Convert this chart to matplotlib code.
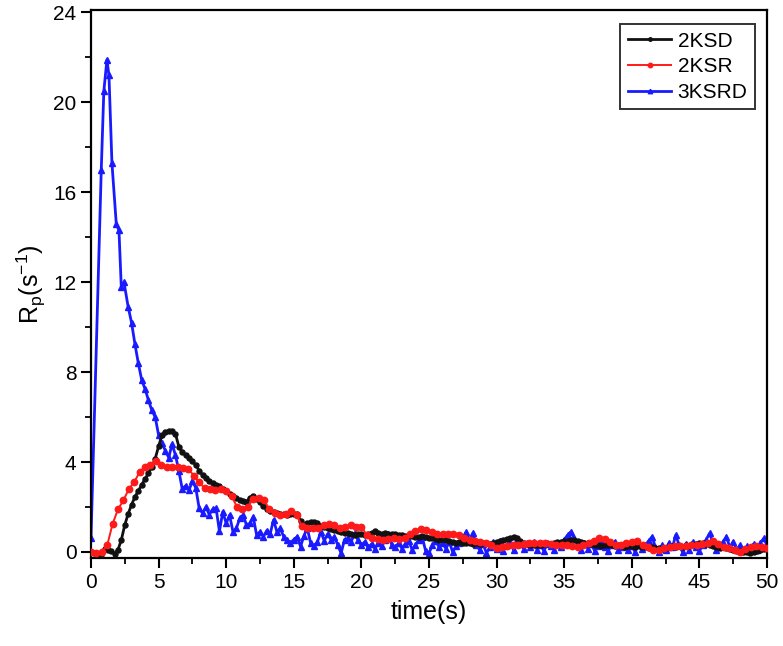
import numpy as np
import matplotlib
matplotlib.use("Agg")
import matplotlib.pyplot as plt
from matplotlib.ticker import MultipleLocator

plt.rcParams['font.family'] = ['Liberation Sans', 'DejaVu Sans']
plt.rcParams['mathtext.fontset'] = 'custom'
plt.rcParams['mathtext.rm'] = 'Liberation Sans'
plt.rcParams['mathtext.it'] = 'Liberation Sans:italic'

# 2KSD, sampled every 0.25 s from t = 0
ksd_step = 0.25
ksd = [
    0.0, -0.05, -0.1, -0.12, 0.15, 0.08, 0.02, -0.08, 0.1, 0.55, 1.2, 1.7, 2.1, 2.45, 2.72, 2.98, 3.25, 3.5, 3.78, 4.15,
    4.7, 5.2, 5.33, 5.36, 5.4, 5.25, 4.68, 4.45, 4.3, 4.18, 4.03, 3.86, 3.62, 3.42, 3.27, 3.15, 3.07, 2.98, 2.95, 2.8,
    2.72, 2.6, 2.48, 2.39, 2.33, 2.28, 2.23, 2.42, 2.5, 2.35, 2.2, 2.04, 1.9, 1.82, 1.78, 1.73, 1.71, 1.7, 1.65, 1.67,
    1.71, 1.7, 1.38, 1.2, 1.3, 1.34, 1.32, 1.28, 1.15, 1.12, 1.08, 1.04, 0.98, 0.93, 0.88, 0.86, 0.84, 0.82, 0.76, 0.78,
    0.8, 0.75, 0.8, 0.86, 0.92, 0.86, 0.82, 0.84, 0.8, 0.78, 0.8, 0.76, 0.74, 0.72, 0.7, 0.73, 0.68, 0.66, 0.7, 0.65,
    0.6, 0.62, 0.58, 0.55, 0.56, 0.52, 0.48, 0.45, 0.42, 0.44, 0.4, 0.38, 0.4, 0.37, 0.38, 0.36, 0.38, 0.4, 0.36, 0.42,
    0.46, 0.5, 0.55, 0.58, 0.62, 0.68, 0.6, 0.5, 0.42, 0.36, 0.32, 0.3, 0.33, 0.3, 0.35, 0.38, 0.36, 0.4, 0.44, 0.46,
    0.5, 0.48, 0.52, 0.54, 0.5, 0.46, 0.42, 0.38, 0.35, 0.3, 0.3, 0.28, 0.3, 0.32, 0.3, 0.28, 0.3, 0.26, 0.24, 0.28,
    0.26, 0.22, 0.26, 0.2, 0.22, 0.18, 0.2, 0.16, 0.18, 0.14, 0.18, 0.22, 0.26, 0.22, 0.28, 0.24, 0.3, 0.28, 0.32, 0.36,
    0.38, 0.4, 0.36, 0.3, 0.26, 0.22, 0.18, 0.2, 0.16, 0.14, 0.1, 0.06, 0.04, 0.0, -0.02, -0.03, 0.0, 0.04, 0.1, 0.14,
    0.16,
]

# 2KSR, sampled every 0.4 s from t = 0
ksr_step = 0.4
ksr = [
    0.0, -0.05, 0.0, 0.3, 1.25, 1.9, 2.3, 2.8, 3.12, 3.55, 3.78, 3.88, 4.05, 3.85, 3.76, 3.78, 3.78, 3.74, 3.7, 3.4,
    3.1, 2.84, 2.8, 2.76, 2.8, 2.72, 2.48, 2.0, 1.93, 2.02, 2.35, 2.42, 2.3, 1.9, 1.74, 1.66, 1.7, 1.8, 1.66, 1.15,
    1.06, 1.05, 1.05, 1.22, 1.24, 1.22, 1.06, 1.1, 1.2, 1.1, 1.12, 0.75, 0.6, 0.56, 0.55, 0.58, 0.6, 0.56, 0.6, 0.82,
    0.95, 1.0, 0.96, 0.9, 0.78, 0.82, 0.82, 0.78, 0.75, 0.6, 0.52, 0.5, 0.45, 0.42, 0.3, 0.18, 0.22, 0.28, 0.3, 0.32,
    0.36, 0.4, 0.38, 0.4, 0.4, 0.36, 0.33, 0.32, 0.3, 0.28, 0.22, 0.3, 0.4, 0.5, 0.6, 0.58, 0.45, 0.32, 0.3, 0.38,
    0.46, 0.48, 0.3, 0.2, 0.1, 0.1, 0.16, 0.22, 0.25, 0.26, 0.28, 0.3, 0.32, 0.34, 0.38, 0.48, 0.36, 0.22, 0.16, 0.1,
    0.0, 0.14, 0.2, 0.26, 0.24, 0.18,
]

# 3KSRD: irregular points over the peak, then every 0.25 s from t = 2.75
ksrd_head_t = [0.0, 0.76, 0.95, 1.18, 1.33, 1.55, 1.87, 2.07, 2.24, 2.44]
ksrd_head = [0.6, 17.0, 20.5, 21.9, 21.2, 17.3, 14.6, 14.3, 11.8, 12.0]
ksrd_tail_start = 2.75
ksrd_tail = [
    10.9, 10.2, 9.25, 8.4, 7.65, 7.25, 6.75, 6.3, 6.0,
    5.2, 4.85, 4.5, 4.2, 4.8, 4.3, 3.6, 2.8, 2.95, 2.75, 3.15, 2.85, 1.95, 1.72, 2.0, 1.66, 1.9, 1.95, 0.92, 1.79,
    1.27, 1.64, 0.9, 1.05, 1.49, 1.64, 1.2, 1.27, 1.56, 0.75, 0.9, 0.68, 0.95, 0.8, 1.42, 0.9, 1.05, 0.68, 0.53, 0.4,
    0.55, 0.68, 0.24, 0.72, 1.05, 0.38, 0.26, 0.45, 0.9, 0.5, 0.8, 0.55, 0.68, 0.31, -0.06, 0.55, 0.6, 0.46, 0.83, 0.53,
    0.3, 0.45, 0.2, 0.35, 0.15, 0.4, 0.25, 0.55, 0.82, 0.3, 0.2, 0.4, 0.15, 0.35, 0.5, 0.1, 0.3, 0.55, 0.65, 0.05,
    -0.05, 0.3, 0.5, 0.2, 0.4, 0.15, 0.45, 0.0, 0.25, 0.4, 0.6, 0.9, 0.5, 0.85, 0.3, 0.1, 0.35, -0.05, 0.2, 0.45,
    0.15, 0.5, 0.05, 0.3, 0.4, 0.1, 0.55, 0.35, 0.15, 0.4, 0.2, 0.45, 0.1, 0.3, 0.05, 0.35, 0.25, 0.1, 0.4, 0.2,
    0.55, 0.75, 0.9, 0.6, 0.3, 0.1, 0.4, 0.15, 0.35, 0.05, 0.25, 0.5, 0.2, 0.05, 0.3, 0.45, 0.1, 0.2, 0.4, 0.1,
    0.25, 0.0, 0.35, 0.15, 0.3, 0.5, 0.68, 0.2, 0.0, 0.3, 0.1, 0.4, 0.2, 0.75, 0.3, 0.0, 0.35, 0.1, 0.45, 0.2,
    0.05, 0.3, 0.55, 0.83, 0.4, 0.1, 0.3, 0.45, 0.68, 0.2, 0.46, 0.1, 0.3, 0.05, 0.25, 0.15, 0.35, 0.1, 0.4, 0.6,
    0.3,
]

x_ticks = [0, 5, 10, 15, 20, 25, 30, 35, 40, 45, 50]
y_ticks = [0, 4, 8, 12, 16, 20, 24]

t_ksd = np.arange(len(ksd)) * ksd_step
t_ksr = np.arange(len(ksr)) * ksr_step
t_ksrd = np.concatenate([ksrd_head_t, ksrd_tail_start + np.arange(len(ksrd_tail)) * 0.25])
v_ksrd = ksrd_head + ksrd_tail

fig = plt.figure(figsize=(7.83, 6.46), dpi=100)
ax = fig.add_axes([0.1162, 0.1362, 0.8634, 0.848])

ax.plot(t_ksd, ksd, color='#111111', lw=2.0, marker='o', ms=3.6, label='2KSD', zorder=3)
ax.plot(t_ksr, ksr, color='#ff1a1a', lw=1.4, marker='o', ms=4.6, label='2KSR', zorder=4)
ax.plot(t_ksrd, v_ksrd, color='#1a1aff', lw=2.0, marker='^', ms=4.6, label='3KSRD', zorder=2)

ax.set_xlim(0, 50)
ax.set_ylim(-0.27, 24.1)
ax.set_xticks(x_ticks)
ax.set_yticks(y_ticks)
ax.xaxis.set_minor_locator(MultipleLocator(2.5))
ax.yaxis.set_minor_locator(MultipleLocator(2))
ax.tick_params(which='major', direction='out', length=7, width=1.5, labelsize=15, colors='black')
ax.tick_params(which='minor', direction='out', length=4, width=1.3)
for sp in ax.spines.values():
    sp.set_linewidth(1.6)

ax.set_xlabel('time(s)', fontsize=18, labelpad=6)
ax.set_ylabel(r'R$_\mathrm{p}$(s$^\mathrm{-1}$)', fontsize=18, labelpad=4)

leg = ax.legend(loc='upper right', bbox_to_anchor=(0.982, 0.974), borderaxespad=0, fontsize=15,
                frameon=True, fancybox=False, edgecolor='black', handlelength=2.1, handletextpad=0.3,
                borderpad=0.35, labelspacing=0.32, markerscale=0.7)
leg.get_frame().set_linewidth(1.4)

fig.savefig('out.png', dpi=100)
